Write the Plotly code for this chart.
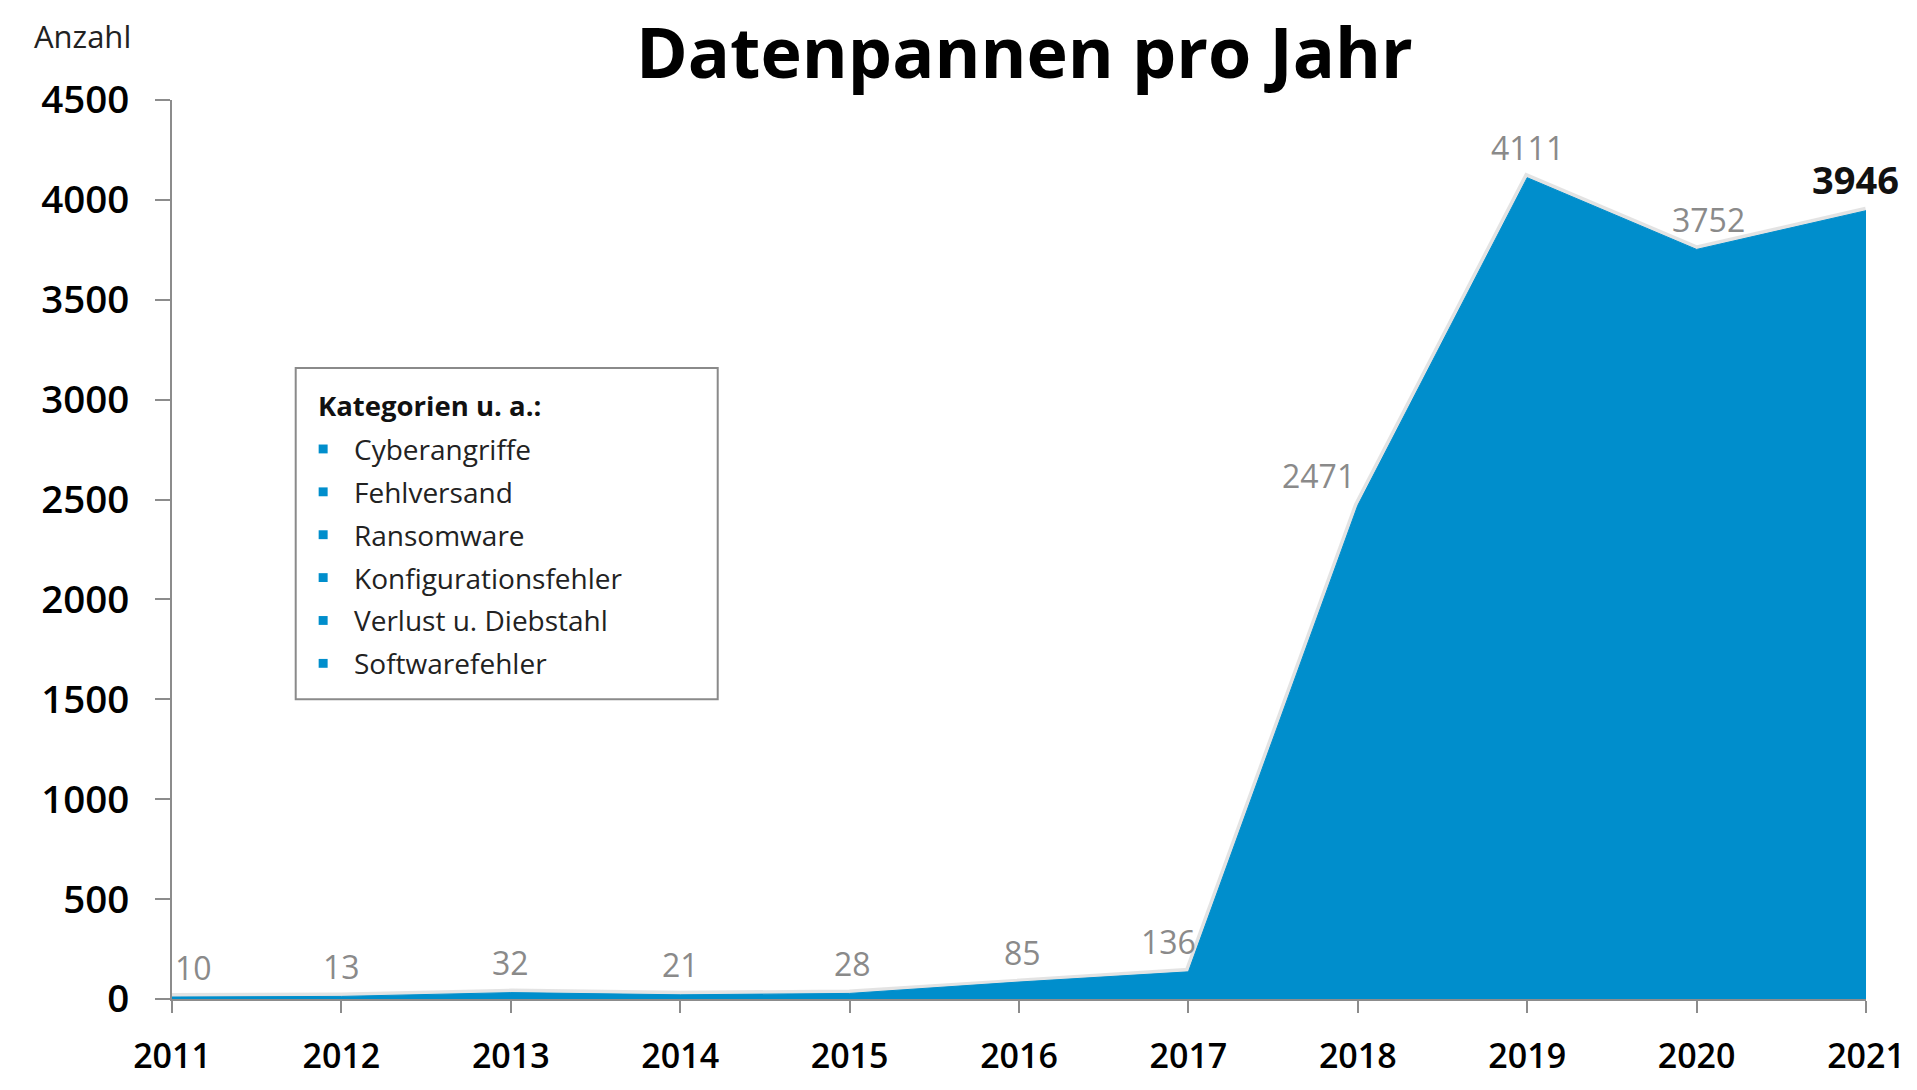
import plotly.graph_objects as go

years = [2011, 2012, 2013, 2014, 2015, 2016, 2017, 2018, 2019, 2020, 2021]
counts = [10, 13, 32, 21, 28, 85, 136, 2471, 4111, 3752, 3946]
label_xshift = [21, 0, 0, 0, 3, 3, -20, -39, 0, 12, -11]
y_ticks = [0, 500, 1000, 1500, 2000, 2500, 3000, 3500, 4000, 4500]
categories = ["Cyberangriffe", "Fehlversand", "Ransomware",
              "Konfigurationsfehler", "Verlust u. Diebstahl", "Softwarefehler"]

TITLE = "Datenpannen pro Jahr"
Y_LABEL = "Anzahl"
LEGEND_TITLE = "Kategorien u. a.:"

BLUE = "rgb(0,142,204)"
GRAY_AXIS = "#8c8c8c"
FONT = "Open Sans"

W, H = 1917, 1090
ML, MR, MT, MB = 172, 47, 100, 78
PW, PH = W - ML - MR, H - MT - MB


def px_x(px):
    return (px - ML) / PW


def px_y(py):
    return (H - MB - py) / PH


fig = go.Figure()
# soft shadow along the edge
fig.add_trace(go.Scatter(x=years, y=counts, mode="lines",
                         line=dict(color="rgba(200,200,200,0.5)", width=8),
                         hoverinfo="skip", showlegend=False))
fig.add_trace(go.Scatter(x=years, y=counts, mode="lines", fill="tozeroy",
                         fillcolor=BLUE, line=dict(color=BLUE, width=1),
                         showlegend=False))

annotations = []
for i, (yr, v) in enumerate(zip(years, counts)):
    last = i == len(years) - 1
    annotations.append(dict(
        x=yr, y=v, xref="x", yref="y", text=str(v), showarrow=False,
        xanchor="center", yanchor="middle", xshift=label_xshift[i],
        yshift=32 if last else 30,
        font=dict(family=FONT, size=38 if last else 32,
                  color="#111111" if last else "#8a8a8a",
                  weight=700 if last else 400)))

annotations.append(dict(x=px_x(1027), y=px_y(50), xref="paper", yref="paper",
                        text=TITLE, showarrow=False, xanchor="center",
                        yanchor="middle",
                        font=dict(family=FONT, size=70, color="#000000", weight=700)))
annotations.append(dict(x=px_x(82), y=px_y(35), xref="paper", yref="paper",
                        text=Y_LABEL, showarrow=False, xanchor="center",
                        yanchor="middle",
                        font=dict(family=FONT, size=31, color="#222222")))

# legend box
shapes = [dict(type="rect", xref="paper", yref="paper",
               x0=px_x(296), x1=px_x(719), y0=px_y(708), y1=px_y(372),
               line=dict(color="#8a8a8a", width=2), fillcolor="white", layer="above")]
annotations.append(dict(x=px_x(316), y=px_y(410), xref="paper", yref="paper",
                        text=LEGEND_TITLE, showarrow=False, xanchor="left",
                        yanchor="middle",
                        font=dict(family=FONT, size=27.5, color="#111111", weight=700)))
row0, step = 454, 43.5
for i, c in enumerate(categories):
    yc = row0 + i * step
    shapes.append(dict(type="rect", xref="paper", yref="paper",
                       x0=px_x(319), x1=px_x(328), y0=px_y(yc + 4.5), y1=px_y(yc - 4.5),
                       line=dict(width=0), fillcolor=BLUE, layer="above"))
    annotations.append(dict(x=px_x(352), y=px_y(yc), xref="paper", yref="paper",
                            text=c, showarrow=False, xanchor="left", yanchor="middle",
                            font=dict(family=FONT, size=28, color="#222222")))

fig.update_layout(
    width=W, height=H,
    margin=dict(l=ML, r=MR, t=MT, b=MB),
    paper_bgcolor="white", plot_bgcolor="white",
    annotations=annotations, shapes=shapes,
    showlegend=False,
    xaxis=dict(range=[years[0], years[-1]], tickvals=years,
               ticktext=[str(y) for y in years],
               showgrid=False, zeroline=False, showline=True,
               linecolor=GRAY_AXIS, linewidth=2, ticks="outside", ticklen=12,
               tickwidth=2, tickcolor=GRAY_AXIS, ticklabelstandoff=14,
               tickfont=dict(family=FONT, size=34, color="#000000", weight=600)),
    yaxis=dict(range=[0, 4500], tickvals=y_ticks,
               showgrid=False, zeroline=False, showline=True,
               linecolor=GRAY_AXIS, linewidth=2, ticks="outside", ticklen=15,
               tickwidth=2, tickcolor=GRAY_AXIS, ticklabelstandoff=18,
               tickfont=dict(family=FONT, size=38.5, color="#000000", weight=600)),
)

fig.write_html("out.html", config={"displayModeBar": False},
               post_script="document.body.style.margin='0';"
                           "document.body.style.overflow='hidden';")
